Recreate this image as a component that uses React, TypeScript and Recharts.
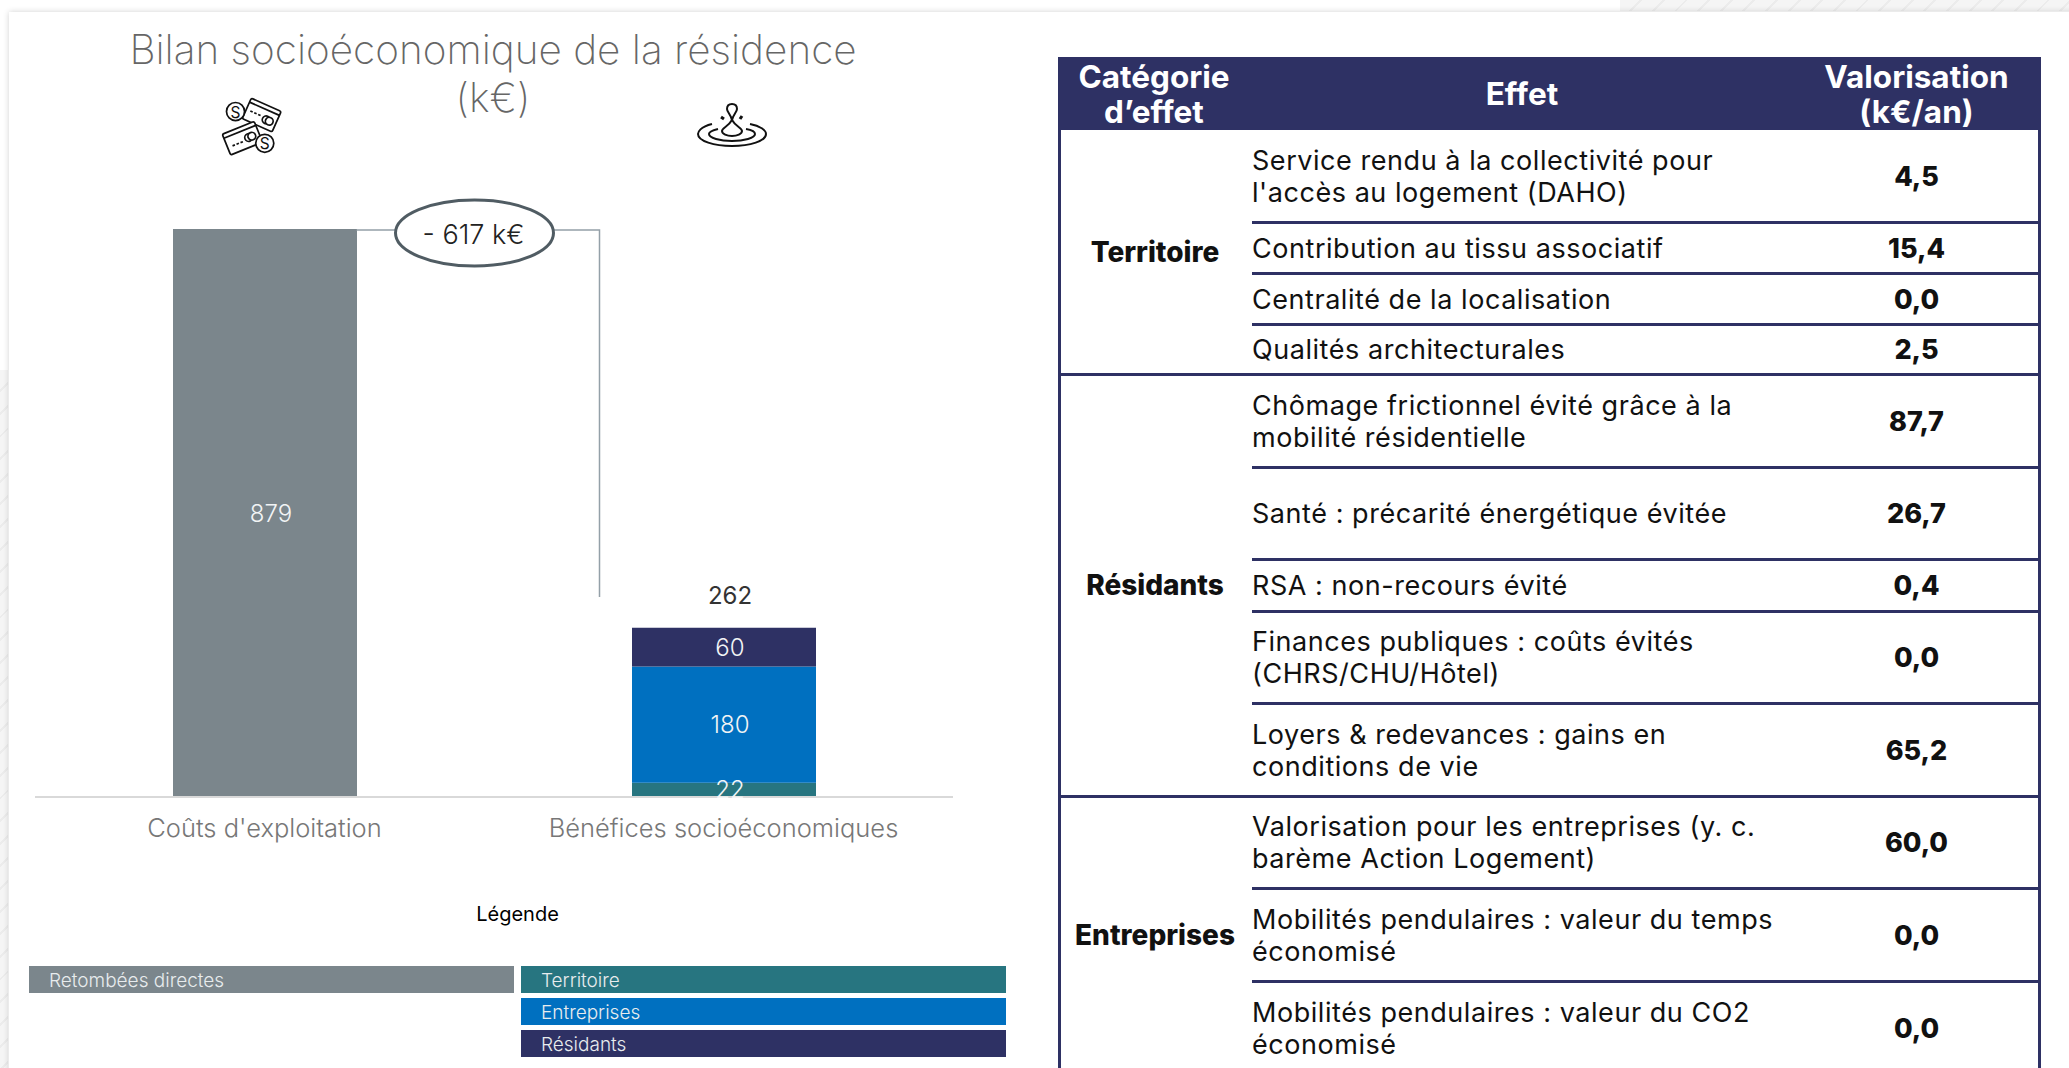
import { Bar, BarChart, LabelList, Legend, ReferenceDot, XAxis, YAxis } from "recharts"

const FONT = "Inter, 'Noto Sans', sans-serif"
const NAVY = "#2e3164"

const chartCategories = ["Coûts d'exploitation", "Bénéfices socioéconomiques"]
const retombees = [879, null]
const territoire = [null, 22]
const entreprises = [null, 180]
const residants = [null, 60]
const totals = [null, 262]

const seriesColors = { retombees: "#7b868c", territoire: "#277580", entreprises: "#0070c0", residants: NAVY }

const legendLeft = [{ label: "Retombées directes", color: seriesColors.retombees }]
const legendRight = [
	{ label: "Territoire", color: seriesColors.territoire },
	{ label: "Entreprises", color: seriesColors.entreprises },
	{ label: "Résidants", color: seriesColors.residants },
]

const tableHeaders = ["Catégorie\nd’effet", "Effet", "Valorisation\n(k€/an)"]
const groupNames = ["Territoire", "Résidants", "Entreprises"]
const territoireEffects = [
	"Service rendu à la collectivité pour\nl'accès au logement (DAHO)",
	"Contribution au tissu associatif",
	"Centralité de la localisation",
	"Qualités architecturales",
]
const territoireValues = ["4,5", "15,4", "0,0", "2,5"]
const residantsEffects = [
	"Chômage frictionnel évité grâce à la\nmobilité résidentielle",
	"Santé : précarité énergétique évitée",
	"RSA : non-recours évité",
	"Finances publiques : coûts évités\n(CHRS/CHU/Hôtel)",
	"Loyers & redevances : gains en\nconditions de vie",
]
const residantsValues = ["87,7", "26,7", "0,4", "0,0", "65,2"]
const entreprisesEffects = [
	"Valorisation pour les entreprises (y. c.\nbarème Action Logement)",
	"Mobilités pendulaires : valeur du temps\néconomisé",
	"Mobilités pendulaires : valeur du CO2\néconomisé",
]
const entreprisesValues = ["60,0", "0,0", "0,0"]

const effectGroups = [territoireEffects, residantsEffects, entreprisesEffects]
const valueGroups = [territoireValues, residantsValues, entreprisesValues]

// row boundaries of the table
const rowEdges = [130, 222, 273, 324, 374, 467, 559.5, 611, 703, 796, 888.5, 981, 1074]

const chartData = chartCategories.map((name, i) => ({
	name,
	retombees: retombees[i],
	territoire: territoire[i],
	entreprises: entreprises[i],
	residants: residants[i],
	total: totals[i],
}))

const barLabel = { fill: "#f2f4f5", fontSize: 24, fontWeight: 300, fontFamily: FONT, dx: 6 }

function DeltaBracket({ cx, cy }: any) {
	const left = cx + 92
	return (
		<g>
			<polyline points={`${left},${cy + 1} ${cx + 335},${cy + 1} ${cx + 335},${cy + 368}`} fill="none" stroke="#94a0a8" strokeWidth={1.5} />
			<ellipse cx={cx + 210} cy={cy + 4} rx={79} ry={33} fill="#fff" stroke="#505c63" strokeWidth={3} />
			<text x={cx + 209} y={cy + 15} textAnchor="middle" fontSize={27} fontWeight={300} fontFamily={FONT} fill="#222">
				- 617 k€
			</text>
		</g>
	)
}

function LegendBoxes() {
	const box = (item: { label: string; color: string }) => (
		<div key={item.label} style={{ height: 27, marginBottom: 5, background: item.color, color: "#e8ecee", fontSize: 19, fontWeight: 300, lineHeight: "29px", paddingLeft: 20 }}>
			{item.label}
		</div>
	)
	return (
		<div style={{ fontFamily: FONT }}>
			<div style={{ textAlign: "center", fontSize: 20, fontWeight: 400, color: "#000", marginBottom: 40, lineHeight: "24px" }}>Légende</div>
			<div style={{ display: "flex", gap: 7 }}>
				<div style={{ width: 485 }}>{legendLeft.map(box)}</div>
				<div style={{ width: 485 }}>{legendRight.map(box)}</div>
			</div>
		</div>
	)
}

function CardsIcon() {
	return (
		<svg width={80} height={80} style={{ position: "absolute", left: 210, top: 85 }} fill="#fff" stroke="#111" strokeWidth={2}>
			<g transform="translate(41 42) scale(0.86) translate(-41 -42)">
				<g transform="rotate(24 53 29)">
					<rect x={34} y={15} width={38} height={26} rx={2} />
					<path d="M39 29 H53" strokeDasharray="3 2" />
					<path d="M34 20 H72" />
					<circle cx={60} cy={31} r={4.5} />
					<circle cx={64} cy={31} r={4.5} />
				</g>
				<circle cx={23} cy={24} r={10.5} />
				<text x={23} y={31} textAnchor="middle" fontSize={18} fontFamily={FONT} fill="#111" stroke="none">S</text>
				<g transform="rotate(-22 31 55)">
					<rect x={11} y={42} width={40} height={26} rx={2} />
					<path d="M11 47 H51" />
					<path d="M17 59 H31" strokeDasharray="3 2" />
					<circle cx={38} cy={57} r={4.5} />
					<circle cx={42} cy={57} r={4.5} />
				</g>
				<circle cx={57} cy={61} r={10.5} />
				<text x={57} y={68} textAnchor="middle" fontSize={18} fontFamily={FONT} fill="#111" stroke="none">S</text>
			</g>
		</svg>
	)
}

function RippleIcon() {
	return (
		<svg width={80} height={60} style={{ position: "absolute", left: 690, top: 96 }} fill="none" stroke="#111" strokeWidth={2}>
			<path d="M22 28 C10 31 8 36 8 38 C8 45 24 50 42 50 C60 50 76 45 76 38 C76 34 70 30 60 28" />
			<path d="M28 33 C20 35 19 37 19 38 C19 42 30 45 42 45 C54 45 65 42 65 38 C65 36 62 34 56 33" />
			<path d="M42 24 C38 31 32 32 32 35 C32 38 37 40 42 40 C47 40 52 38 52 35 C52 32 46 31 42 24" />
			<path d="M42 24 C41 19 37 16 37 13 C37 10 39 8 42 8 C45 8 47 10 47 13 C47 16 43 19 42 24" />
			<path d="M31 21 L34 23 M52 20 L50 23" strokeWidth={3} />
		</svg>
	)
}

function EffectsTable() {
	const tableLeft = 1058
	const tableRight = 2041
	const effectLeft = 1252
	const valueLeft = 1792
	let row = 0
	const cells: any[] = []
	const cellStyle = { position: "absolute", display: "flex", alignItems: "center", color: "#111" } as const
	groupNames.forEach((group, g) => {
		const first = row
		effectGroups[g].forEach((effect, e) => {
			const top = rowEdges[row]
			const height = rowEdges[row + 1] - top
			cells.push(
				<div key={effect} style={{ ...cellStyle, left: effectLeft, top: top + 1, height, width: valueLeft - effectLeft, fontSize: 27, letterSpacing: 0.55, lineHeight: "32px", whiteSpace: "pre", fontWeight: 400 }}>
					{effect}
				</div>,
				<div key={effect + "v"} style={{ ...cellStyle, left: valueLeft, top: top + 0.5, height, width: tableRight - valueLeft, justifyContent: "center", fontSize: 27, fontWeight: 800 }}>
					{valueGroups[g][e]}
				</div>,
			)
			if (row > first) {
				cells.push(<div key={effect + "l"} style={{ position: "absolute", left: effectLeft, top: top - 1.5, width: tableRight - effectLeft, height: 3, background: NAVY }} />)
			}
			row++
		})
		cells.push(
			<div key={group} style={{ ...cellStyle, left: tableLeft + 1, top: rowEdges[first], height: rowEdges[row] - rowEdges[first], width: effectLeft - tableLeft - 2, justifyContent: "center", fontSize: 28, fontWeight: 800 }}>
				{group}
			</div>,
			<div key={group + "l"} style={{ position: "absolute", left: tableLeft, top: rowEdges[row] - 1.5, width: tableRight - tableLeft, height: 3, background: NAVY }} />,
		)
	})
	const headerCell = { position: "absolute", top: 57, height: 73, display: "flex", alignItems: "center", justifyContent: "center", textAlign: "center", whiteSpace: "pre", color: "#fff", fontSize: 31.5, fontWeight: 700, lineHeight: "35px" } as const
	return (
		<div style={{ fontFamily: FONT }}>
			<div style={{ position: "absolute", left: tableLeft, top: 57, width: tableRight - tableLeft, height: 73, background: NAVY }} />
			<div style={{ ...headerCell, left: tableLeft, width: effectLeft - tableLeft - 2 }}>{tableHeaders[0]}</div>
			<div style={{ ...headerCell, left: effectLeft, width: valueLeft - effectLeft }}>{tableHeaders[1]}</div>
			<div style={{ ...headerCell, left: valueLeft, width: tableRight - valueLeft }}>{tableHeaders[2]}</div>
			<div style={{ position: "absolute", left: tableLeft, top: 130, width: 3, height: 960, background: NAVY }} />
			<div style={{ position: "absolute", left: tableRight - 3, top: 130, width: 3, height: 960, background: NAVY }} />
			{cells}
		</div>
	)
}

export default function App() {
	const hatch = "repeating-linear-gradient(135deg, #f5f5f5 0 14px, #ececec 14px 16px)"
	return (
		<div style={{ position: "absolute", left: 0, top: 0, width: 2069, height: 1068, overflow: "hidden", background: "#fff" }}>
			<div style={{ position: "absolute", left: 1620, top: 0, width: 449, height: 11, background: hatch }} />
			<div style={{ position: "absolute", left: 0, top: 370, width: 8, height: 698, background: hatch }} />
			<div style={{ position: "absolute", left: 9, top: 12, width: 2100, height: 1100, background: "#fff", boxShadow: "0 0 6px rgba(0,0,0,0.18)" }} />
			<div style={{ position: "absolute", left: 0, top: 0 }}>
				<BarChart
					width={1040}
					height={1068}
					data={chartData}
					margin={{ top: 229, right: 87, bottom: 81, left: 35 }}
					barSize={184}
				>
					<XAxis
						dataKey="name"
						axisLine={{ stroke: "#d9d9d9", strokeWidth: 2 }}
						tickLine={false}
						tick={{ fill: "#777", fontSize: 25.5, fontWeight: 300, fontFamily: FONT }}
						tickMargin={16}
						interval={0}
					/>
					<YAxis hide domain={[0, 879]} />
					<Legend
						content={<LegendBoxes />}
						wrapperStyle={{ position: "absolute", left: 29, top: 902, width: 977, bottom: "auto" }}
					/>
					<Bar dataKey="retombees" stackId="a" fill={seriesColors.retombees} isAnimationActive={false}>
						<LabelList dataKey="retombees" position="center" {...barLabel} />
					</Bar>
					<Bar dataKey="territoire" stackId="a" fill={seriesColors.territoire} isAnimationActive={false}>
						<LabelList dataKey="territoire" position="center" {...barLabel} />
					</Bar>
					<Bar dataKey="entreprises" stackId="a" fill={seriesColors.entreprises} isAnimationActive={false}>
						<LabelList dataKey="entreprises" position="center" {...barLabel} />
					</Bar>
					<Bar dataKey="residants" stackId="a" fill={seriesColors.residants} isAnimationActive={false}>
						<LabelList dataKey="residants" position="center" {...barLabel} />
						<LabelList dataKey="total" position="top" offset={24} fill="#333" fontSize={24} fontWeight={400} fontFamily={FONT} dx={6} />
					</Bar>
					<ReferenceDot x={chartCategories[0]} y={879} ifOverflow="visible" shape={<DeltaBracket />} />
				</BarChart>
			</div>
			<div style={{ position: "absolute", left: 100, top: 26, width: 786, textAlign: "center", fontFamily: FONT, fontWeight: 200, fontSize: 40.5, lineHeight: "48px", color: "#666" }}>
				Bilan socioéconomique de la résidence
				<br />
				(k€)
			</div>
			<CardsIcon />
			<RippleIcon />
			<EffectsTable />
		</div>
	)
}
